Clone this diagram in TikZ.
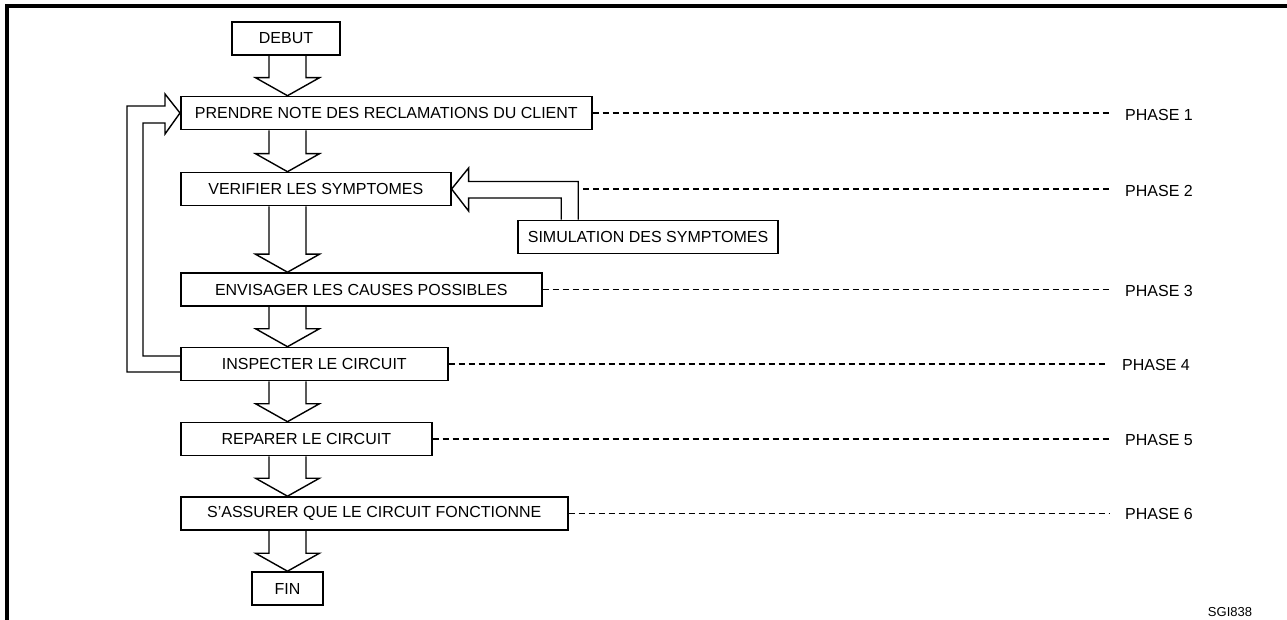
\documentclass[tikz,border=0pt]{standalone}
\usepackage{fontspec}
\setmainfont{Liberation Sans}
\usetikzlibrary{calc}

\tikzset{
	stepbox/.style={draw, rectangle, line width=1.6pt, minimum height=33pt, inner sep=0pt, font=\fontsize{16}{19}\selectfont},
	blockline/.style={line width=1.4pt, line join=miter},
	phaseline/.style={dash pattern=on 6pt off 4pt, line width=1.3pt},
	phaselabel/.style={anchor=west, inner ysep=0pt, inner xsep=15pt, font=\fontsize{16}{19}\selectfont},
}

\begin{document}
\begin{tikzpicture}[x=1pt, y=-1pt]
				\useasboundingbox (0,0) rectangle (1287,620);
				\draw[line width=3.5pt] (7,620) -- (7,6) -- (1287,6);
				% etapes
				\node[stepbox, minimum width=108pt] (debut) at (286,38.5) {DEBUT};
				\node[stepbox, minimum width=411pt, anchor=west] (prendre) at (180,113) {PRENDRE NOTE DES RECLAMATIONS DU CLIENT};
				\node[stepbox, minimum width=270pt, anchor=west] (verif) at (180,189) {VERIFIER LES SYMPTOMES};
				\node[stepbox, minimum width=260pt] (sim) at (648,237) {SIMULATION DES SYMPTOMES};
				\node[stepbox, minimum width=361pt, anchor=west] (causes) at (180,289.5) {ENVISAGER LES CAUSES POSSIBLES};
				\node[stepbox, minimum width=267pt, anchor=west] (inspect) at (180,364) {INSPECTER LE CIRCUIT};
				\node[stepbox, minimum width=251pt, anchor=west] (repare) at (180,439) {REPARER LE CIRCUIT};
				\node[stepbox, minimum width=387pt, anchor=west] (assure) at (180,513.5) {S’ASSURER QUE LE CIRCUIT FONCTIONNE};
				\node[stepbox, minimum width=71pt] (fin) at (287.5,588.5) {FIN};
				% phases
				\node[phaselabel] (ph1) at (1110,115) {PHASE 1};
				\node[phaselabel] (ph2) at (1110,191) {PHASE 2};
				\node[phaselabel] (ph3) at (1110,291) {PHASE 3};
				\node[phaselabel] (ph4) at (1107,365) {PHASE 4};
				\node[phaselabel] (ph5) at (1110,440) {PHASE 5};
				\node[phaselabel] (ph6) at (1110,514) {PHASE 6};
				\node[font=\fontsize{13}{15}\selectfont, inner sep=0pt] (ref) at (1230,612) {SGI838};
				% grosses fleches
				\coordinate (axis) at (287.5,0);
				\foreach \a/\b in {debut/prendre, prendre/verif, verif/causes, causes/inspect, inspect/repare, repare/assure, assure/fin}
					\draw[blockline] ($(\a.south -| axis)+(-18.5,0)$) -- ($(\b.north -| axis)+(-18.5,-18)$) -- ($(\b.north -| axis)+(-32,-18)$) -- (\b.north -| axis) -- ($(\b.north -| axis)+(32,-18)$) -- ($(\b.north -| axis)+(18.5,-18)$) -- ($(\a.south -| axis)+(18.5,0)$);
				% retour
				\draw[blockline] ($(inspect.west)+(0,8)$) -| ($(prendre.west)+(-53,-7)$) -- ($(prendre.west)+(-15,-7)$) -- ($(prendre.west)+(-15,-19)$) -- (prendre.west) -- ($(prendre.west)+(-15,21)$) -- ($(prendre.west)+(-15,10)$) -| ($(inspect.west)+(-37,-8)$) -- ($(inspect.west)+(0,-8)$);
				\coordinate (simtop) at ($(sim.north west)+(61,0)$);
				\draw[blockline] (simtop) |- ($(verif.east)+(17,-7.5)$) -- ($(verif.east)+(17,-21)$) -- (verif.east) -- ($(verif.east)+(17,22)$) -- ($(verif.east)+(17,9)$) -| ($(sim.north west)+(44,0)$);
				% pointilles
				\draw[phaseline] (prendre.east) -- (prendre.east -| ph1.west);
				\draw[phaseline] ($(verif.east -| simtop)+(5,0)$) -- (verif.east -| ph2.west);
				\draw[phaseline] (causes.east) -- (causes.east -| ph3.west);
				\draw[phaseline, line width=2pt] (inspect.east) -- (inspect.east -| ph4.west);
				\draw[phaseline, line width=2pt] (repare.east) -- (repare.east -| ph5.west);
				\draw[phaseline] (assure.east) -- (assure.east -| ph6.west);
			\end{tikzpicture}
\end{document}
